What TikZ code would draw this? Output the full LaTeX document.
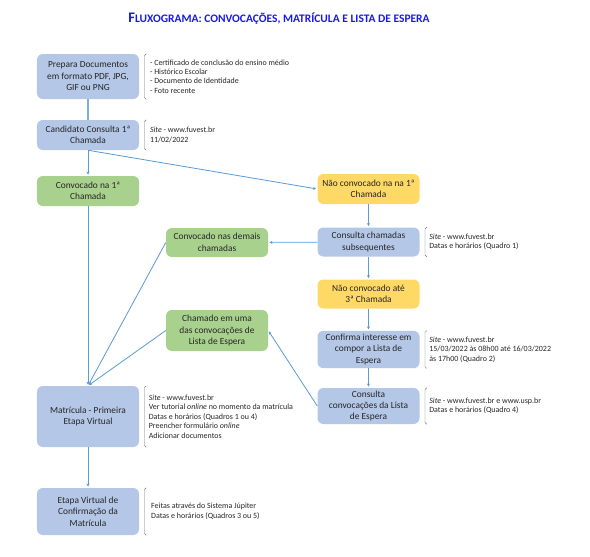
\documentclass[tikz,border=0pt]{standalone}
\usepackage{fontspec}
\setmainfont{Carlito}
\usepackage{xcolor}
\usetikzlibrary{arrows.meta, positioning, calc}
\definecolor{flowblue}{RGB}{180, 199, 231}
\definecolor{flowgreen}{RGB}{169, 209, 142}
\definecolor{flowyellow}{RGB}{255, 217, 102}
\definecolor{flowline}{RGB}{91, 155, 213}
\definecolor{flowtitle}{RGB}{25, 25, 235}
\tikzset{
    box/.style={rectangle, rounded corners=5pt, align=center, minimum width=3.06cm, inner sep=1pt, font=\fontsize{8}{9.8}\selectfont, text=black!85},
    bluebox/.style={box, fill=flowblue},
    greenbox/.style={box, fill=flowgreen},
    yellowbox/.style={box, fill=flowyellow},
    note/.style={anchor=west, align=left, inner sep=0pt, font=\fontsize{6.8}{8.1}\selectfont, text=black!85},
    link/.style={draw, flowline, line width=0.7pt, -{Stealth[length=2.6pt, width=2.6pt]}, shorten >=1pt},
    bracket/.style={draw, black!55, line width=0.4pt}
}
\newcommand{\notebracket}[1]{%
    \draw[bracket] ($(#1.north east)+(6pt,0)$) -- ++(-1.5pt,-1.5pt) -- ($(#1.south east)+(4.5pt,1.5pt)$) -- ++(1.5pt,-1.5pt);}

\begin{document}
\begin{tikzpicture}[x=0.03cm, y=-0.03cm]
    \useasboundingbox (0,0) rectangle (590,556);

    % --- TITLE ---
    \node[font=\bfseries, text=flowtitle] (title) at (279,19)
        {{\fontsize{12.5}{14}\selectfont F}{\fontsize{9.8}{12}\selectfont LUXOGRAMA: CONVOCAÇÕES, MATRÍCULA E LISTA DE ESPERA}};

    % --- LEFT COLUMN ---
    \node[bluebox, minimum height=1.35cm] (prep) at (88,76.5) {Prepara Documentos\\em formato PDF, JPG,\\GIF ou PNG};
    \node[bluebox, minimum height=0.9cm] (cons1) at (88,135) {Candidato Consulta 1ª\\Chamada};
    \node[greenbox, minimum height=0.9cm] (conv1) at (88,191) {Convocado na 1ª\\Chamada};
    \node[bluebox, minimum height=1.83cm] (matr) at (88,416.5) {Matrícula - Primeira\\Etapa Virtual};
    \node[bluebox, minimum height=1.41cm] (conf) at (88,511.5) {Etapa Virtual de\\Confirmação da\\Matrícula};

    % --- MIDDLE COLUMN ---
    \node[greenbox, minimum height=0.87cm] (demais) at (217,242.5) {Convocado nas demais\\chamadas};
    \node[greenbox, minimum height=1.23cm] (espera) at (217,330.5) {Chamado em uma\\das convocações de\\Lista de Espera};

    % --- RIGHT COLUMN ---
    \node[yellowbox, minimum height=0.9cm] (naoconv) at (368.5,189) {Não convocado na na 1ª\\Chamada};
    \node[bluebox, minimum height=0.87cm] (subseq) at (368.5,242) {Consulta chamadas\\subsequentes};
    \node[yellowbox, minimum height=0.87cm] (naotres) at (368.5,294) {Não convocado até\\3ª Chamada};
    \node[bluebox, minimum height=1.12cm] (interesse) at (368.5,349.5) {Confirma interesse em\\compor a Lista de\\Espera};
    \node[bluebox, minimum height=1.08cm] (lista) at (368.5,406) {Consulta\\convocações da Lista\\de Espera};

    % --- NOTES ---
    \node[note] (nprep) at ($(prep.east)+(9pt,0)$) {- Certificado de conclusão do ensino médio\\- Histórico Escolar\\- Documento de Identidade\\- Foto recente};
    \node[note] (ncons1) at ($(cons1.east)+(9pt,0)$) {\textit{Site} - www.fuvest.br\\11/02/2022};
    \node[note] (nsubseq) at ($(subseq.east)+(8pt,0)$) {\textit{Site} - www.fuvest.br\\Datas e horários (Quadro 1)};
    \node[note] (ninteresse) at ($(interesse.east)+(8pt,0)$) {\textit{Site} - www.fuvest.br\\15/03/2022 às 08h00 até 16/03/2022\\às 17h00 (Quadro 2)};
    \node[note] (nlista) at ($(lista.east)+(8pt,0)$) {\textit{Site} - www.fuvest.br e www.usp.br\\Datas e horários (Quadro 4)};
    \node[note] (nmatr) at ($(matr.east)+(8pt,0)$) {\textit{Site} - www.fuvest.br\\Ver tutorial \textit{online} no momento da matrícula\\Datas e horários (Quadros 1 ou 4)\\Preencher formulário \textit{online}\\Adicionar documentos};
    \node[note] (nconf) at ($(conf.east)+(10pt,0)$) {Feitas através do Sistema Júpiter\\Datas e horários (Quadros 3 ou 5)};

    \foreach \b in {prep, cons1, subseq, interesse, lista, matr, conf}
        \notebracket{\b};

    % --- CONNECTORS ---
    \draw[flowline!80, line width=1.6pt] (prep) -- (cons1);
    \draw[link] (cons1) -- (conv1);
    \draw[link] (cons1.south) -- (naoconv.west);
    \draw[link] (naoconv) -- (subseq);
    \draw[link] (subseq) -- (demais);
    \draw[link] (subseq) -- (naotres);
    \draw[link] (naotres) -- (interesse);
    \draw[link] (interesse) -- (lista);
    \draw[link] (lista.west) -- (espera.east);
    \draw[link] (conv1) -- (matr);
    \draw[link] (demais.west) -- (matr.north);
    \draw[link] (espera.west) -- (matr.north);
    \draw[link] (matr) -- (conf);

\end{tikzpicture}
\end{document}
